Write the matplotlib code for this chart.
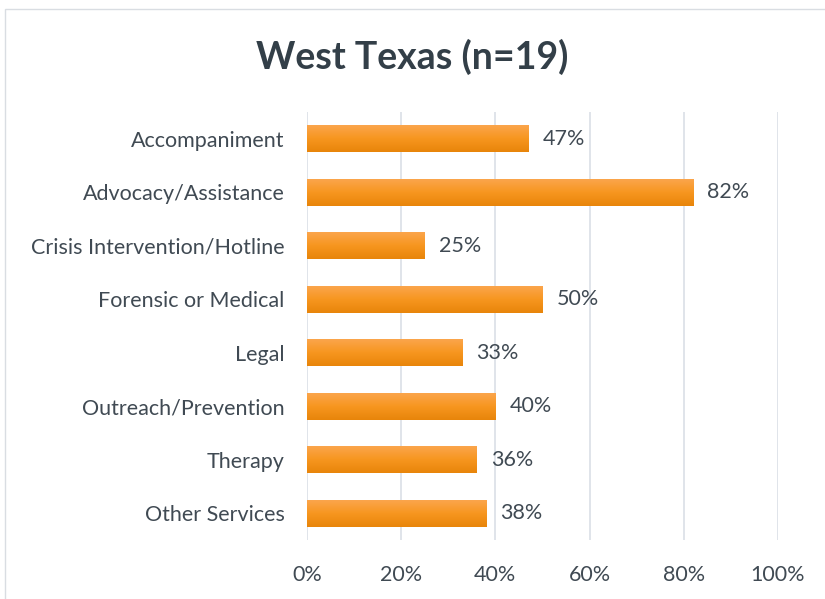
import numpy as np
import matplotlib.pyplot as plt
from matplotlib.colors import LinearSegmentedColormap
from matplotlib.patches import Rectangle

categories = ['Accompaniment', 'Advocacy/Assistance', 'Crisis Intervention/Hotline',
              'Forensic or Medical', 'Legal', 'Outreach/Prevention', 'Therapy', 'Other Services']
values = [47, 82, 25, 50, 33, 40, 36, 38]
ticks = [0, 20, 40, 60, 80, 100]
tick_labels = ['0%', '20%', '40%', '60%', '80%', '100%']

plt.rcParams['font.family'] = ['Lato', 'DejaVu Sans']
text_col = '#404a53'
fs = 15.5

fig = plt.figure(figsize=(8.25, 5.99), dpi=100)
ax = fig.add_axes([0.372, 0.0985, 0.571, 0.7145])

# orange gradient, lighter on top
cmap = LinearSegmentedColormap.from_list('org', ['#fba54c', '#f7961f', '#e8850a'])
grad = np.linspace(0, 1, 64).reshape(-1, 1)
h = 0.5
for i, v in enumerate(values):
    ax.imshow(grad, cmap=cmap, aspect='auto', extent=(0, v, i + h / 2, i - h / 2),
              zorder=2, interpolation='bilinear')
    ax.text(v + 3, i, f'{v}%', va='center', ha='left', fontsize=fs, color=text_col)

ax.set_xlim(0, 100)
ax.set_ylim(len(categories) - 0.5, -0.5)
ax.set_yticks(range(len(categories)))
ax.set_yticklabels(categories, fontsize=fs, color=text_col)
ax.set_xticks(ticks)
ax.set_xticklabels(tick_labels, fontsize=fs, color=text_col)
ax.tick_params(length=0, pad=16, axis='y')
ax.tick_params(length=0, pad=18, axis='x')
ax.grid(axis='x', color='#dde2e8', linewidth=1.3, zorder=0)
ax.set_axisbelow(True)
for s in ax.spines.values():
    s.set_visible(False)

fig.text(0.5, 0.905, 'West Texas (n=19)', ha='center', va='center',
         fontsize=27, fontweight='bold', color='#333f48')

fig.patches.append(Rectangle((5 / 825, -0.01), 1.0, 1 - 9 / 599 + 0.01,
                             transform=fig.transFigure, fill=False,
                             edgecolor='#d9dde2', linewidth=1))

fig.savefig('out.png', dpi=100)
